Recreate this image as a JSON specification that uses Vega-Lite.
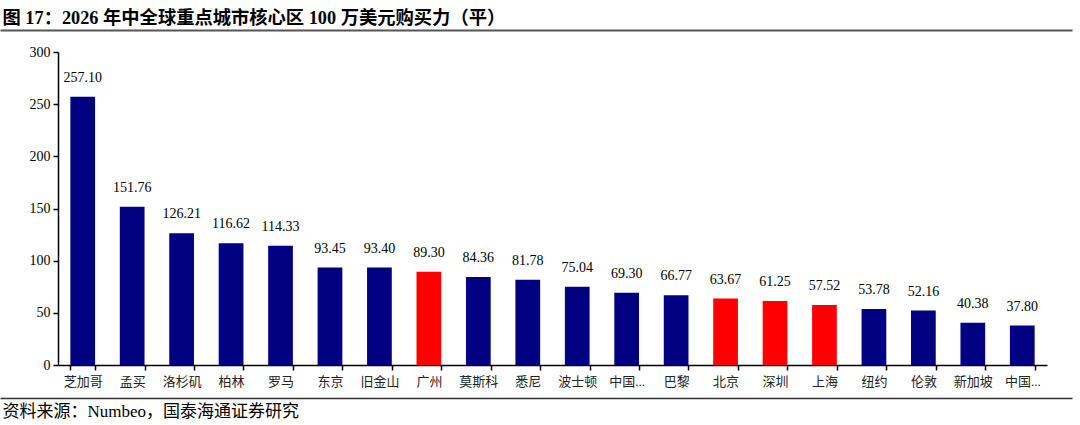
{
  "$schema": "https://vega.github.io/schema/vega-lite/v6.json",
  "width": 1080,
  "height": 425,
  "autosize": {"type": "none"},
  "padding": 0,
  "background": "white",
  "config": {
    "view": {"stroke": null},
    "font": "Liberation Serif, Noto Sans CJK SC",
    "axis": {"labelFont": "Liberation Serif, Noto Sans CJK SC", "titleFont": "Liberation Serif, Noto Sans CJK SC"}
  },
  "datasets": {
    "cities": [
      {"city": "芝加哥", "value": 257.10, "region": "其他"},
      {"city": "孟买", "value": 151.76, "region": "其他"},
      {"city": "洛杉矶", "value": 126.21, "region": "其他"},
      {"city": "柏林", "value": 116.62, "region": "其他"},
      {"city": "罗马", "value": 114.33, "region": "其他"},
      {"city": "东京", "value": 93.45, "region": "其他"},
      {"city": "旧金山", "value": 93.40, "region": "其他"},
      {"city": "广州", "value": 89.30, "region": "中国大陆"},
      {"city": "莫斯科", "value": 84.36, "region": "其他"},
      {"city": "悉尼", "value": 81.78, "region": "其他"},
      {"city": "波士顿", "value": 75.04, "region": "其他"},
      {"city": "中国台北", "value": 69.30, "region": "其他"},
      {"city": "巴黎", "value": 66.77, "region": "其他"},
      {"city": "北京", "value": 63.67, "region": "中国大陆"},
      {"city": "深圳", "value": 61.25, "region": "中国大陆"},
      {"city": "上海", "value": 57.52, "region": "中国大陆"},
      {"city": "纽约", "value": 53.78, "region": "其他"},
      {"city": "伦敦", "value": 52.16, "region": "其他"},
      {"city": "新加坡", "value": 40.38, "region": "其他"},
      {"city": "中国香港", "value": 37.80, "region": "其他"}
    ],
    "frame": [{"p": 0}, {"p": 1}]
  },
  "layer": [
    {
      "data": {"name": "cities"},
      "encoding": {
        "x": {
          "field": "city",
          "type": "nominal",
          "sort": null,
          "scale": {"range": [58, 1047], "paddingInner": 0.5, "paddingOuter": 0.25},
          "axis": {
            "orient": "bottom",
            "offset": -60,
            "title": null,
            "labelAngle": 0,
            "tickBand": "extent",
            "tickSize": 5,
            "tickColor": "#000000",
            "tickWidth": 1.5,
            "domainColor": "#000000",
            "domainWidth": 1.5,
            "labelFontSize": 13,
            "labelColor": "#222222",
            "labelPadding": 5,
            "labelExpr": "length(datum.label) > 3 ? substring(datum.label, 0, 2) + '...' : datum.label"
          }
        },
        "y": {
          "field": "value",
          "type": "quantitative",
          "scale": {"domain": [0, 300], "range": [365, 52], "nice": false},
          "axis": {
            "orient": "left",
            "offset": -58,
            "title": null,
            "values": [0, 50, 100, 150, 200, 250, 300],
            "grid": false,
            "tickSize": 5,
            "tickColor": "#000000",
            "tickWidth": 1.5,
            "domainColor": "#000000",
            "domainWidth": 1.5,
            "labelFontSize": 14,
            "labelColor": "#000000",
            "labelPadding": 3
          }
        }
      },
      "layer": [
        {
          "mark": {"type": "bar"},
          "encoding": {
            "color": {
              "field": "region",
              "type": "nominal",
              "scale": {"domain": ["中国大陆", "其他"], "range": ["#FF0000", "#000080"]},
              "legend": null
            }
          }
        },
        {
          "mark": {"type": "text", "baseline": "alphabetic", "dy": -15, "fontSize": 14, "font": "Liberation Serif", "color": "#000000"},
          "encoding": {
            "text": {"field": "value", "type": "quantitative", "format": ".2f"}
          }
        }
      ]
    },
    {
      "data": {"name": "frame"},
      "mark": {"type": "point", "opacity": 0},
      "encoding": {
        "x": {
          "field": "p",
          "type": "quantitative",
          "scale": {"domain": [0, 1], "range": [0, 1072], "nice": false, "zero": false},
          "axis": {
            "orient": "top",
            "offset": -30,
            "labels": false,
            "ticks": false,
            "grid": false,
            "domainColor": "#555555",
            "domainWidth": 2,
            "title": "图 17：2026 年中全球重点城市核心区 100 万美元购买力（平）",
            "titleX": 2,
            "titleY": -7,
            "titleAlign": "left",
            "titleBaseline": "alphabetic",
            "titleFontSize": 18.3,
            "titleFontWeight": "bold",
            "titleColor": "#000000"
          }
        }
      }
    },
    {
      "data": {"name": "frame"},
      "mark": {"type": "point", "opacity": 0},
      "encoding": {
        "x": {
          "field": "p",
          "type": "quantitative",
          "scale": {"domain": [0, 1], "range": [0, 1072], "nice": false, "zero": false},
          "axis": {
            "orient": "bottom",
            "offset": -27,
            "labels": false,
            "ticks": false,
            "grid": false,
            "domainColor": "#333333",
            "domainWidth": 1.5,
            "title": "资料来源：Numbeo，国泰海通证券研究",
            "titleX": 2,
            "titleY": 18,
            "titleAlign": "left",
            "titleBaseline": "alphabetic",
            "titleFontSize": 17,
            "titleFontWeight": "normal",
            "titleColor": "#000000"
          }
        }
      }
    }
  ],
  "resolve": {"scale": {"x": "independent"}, "axis": {"x": "independent"}}
}
